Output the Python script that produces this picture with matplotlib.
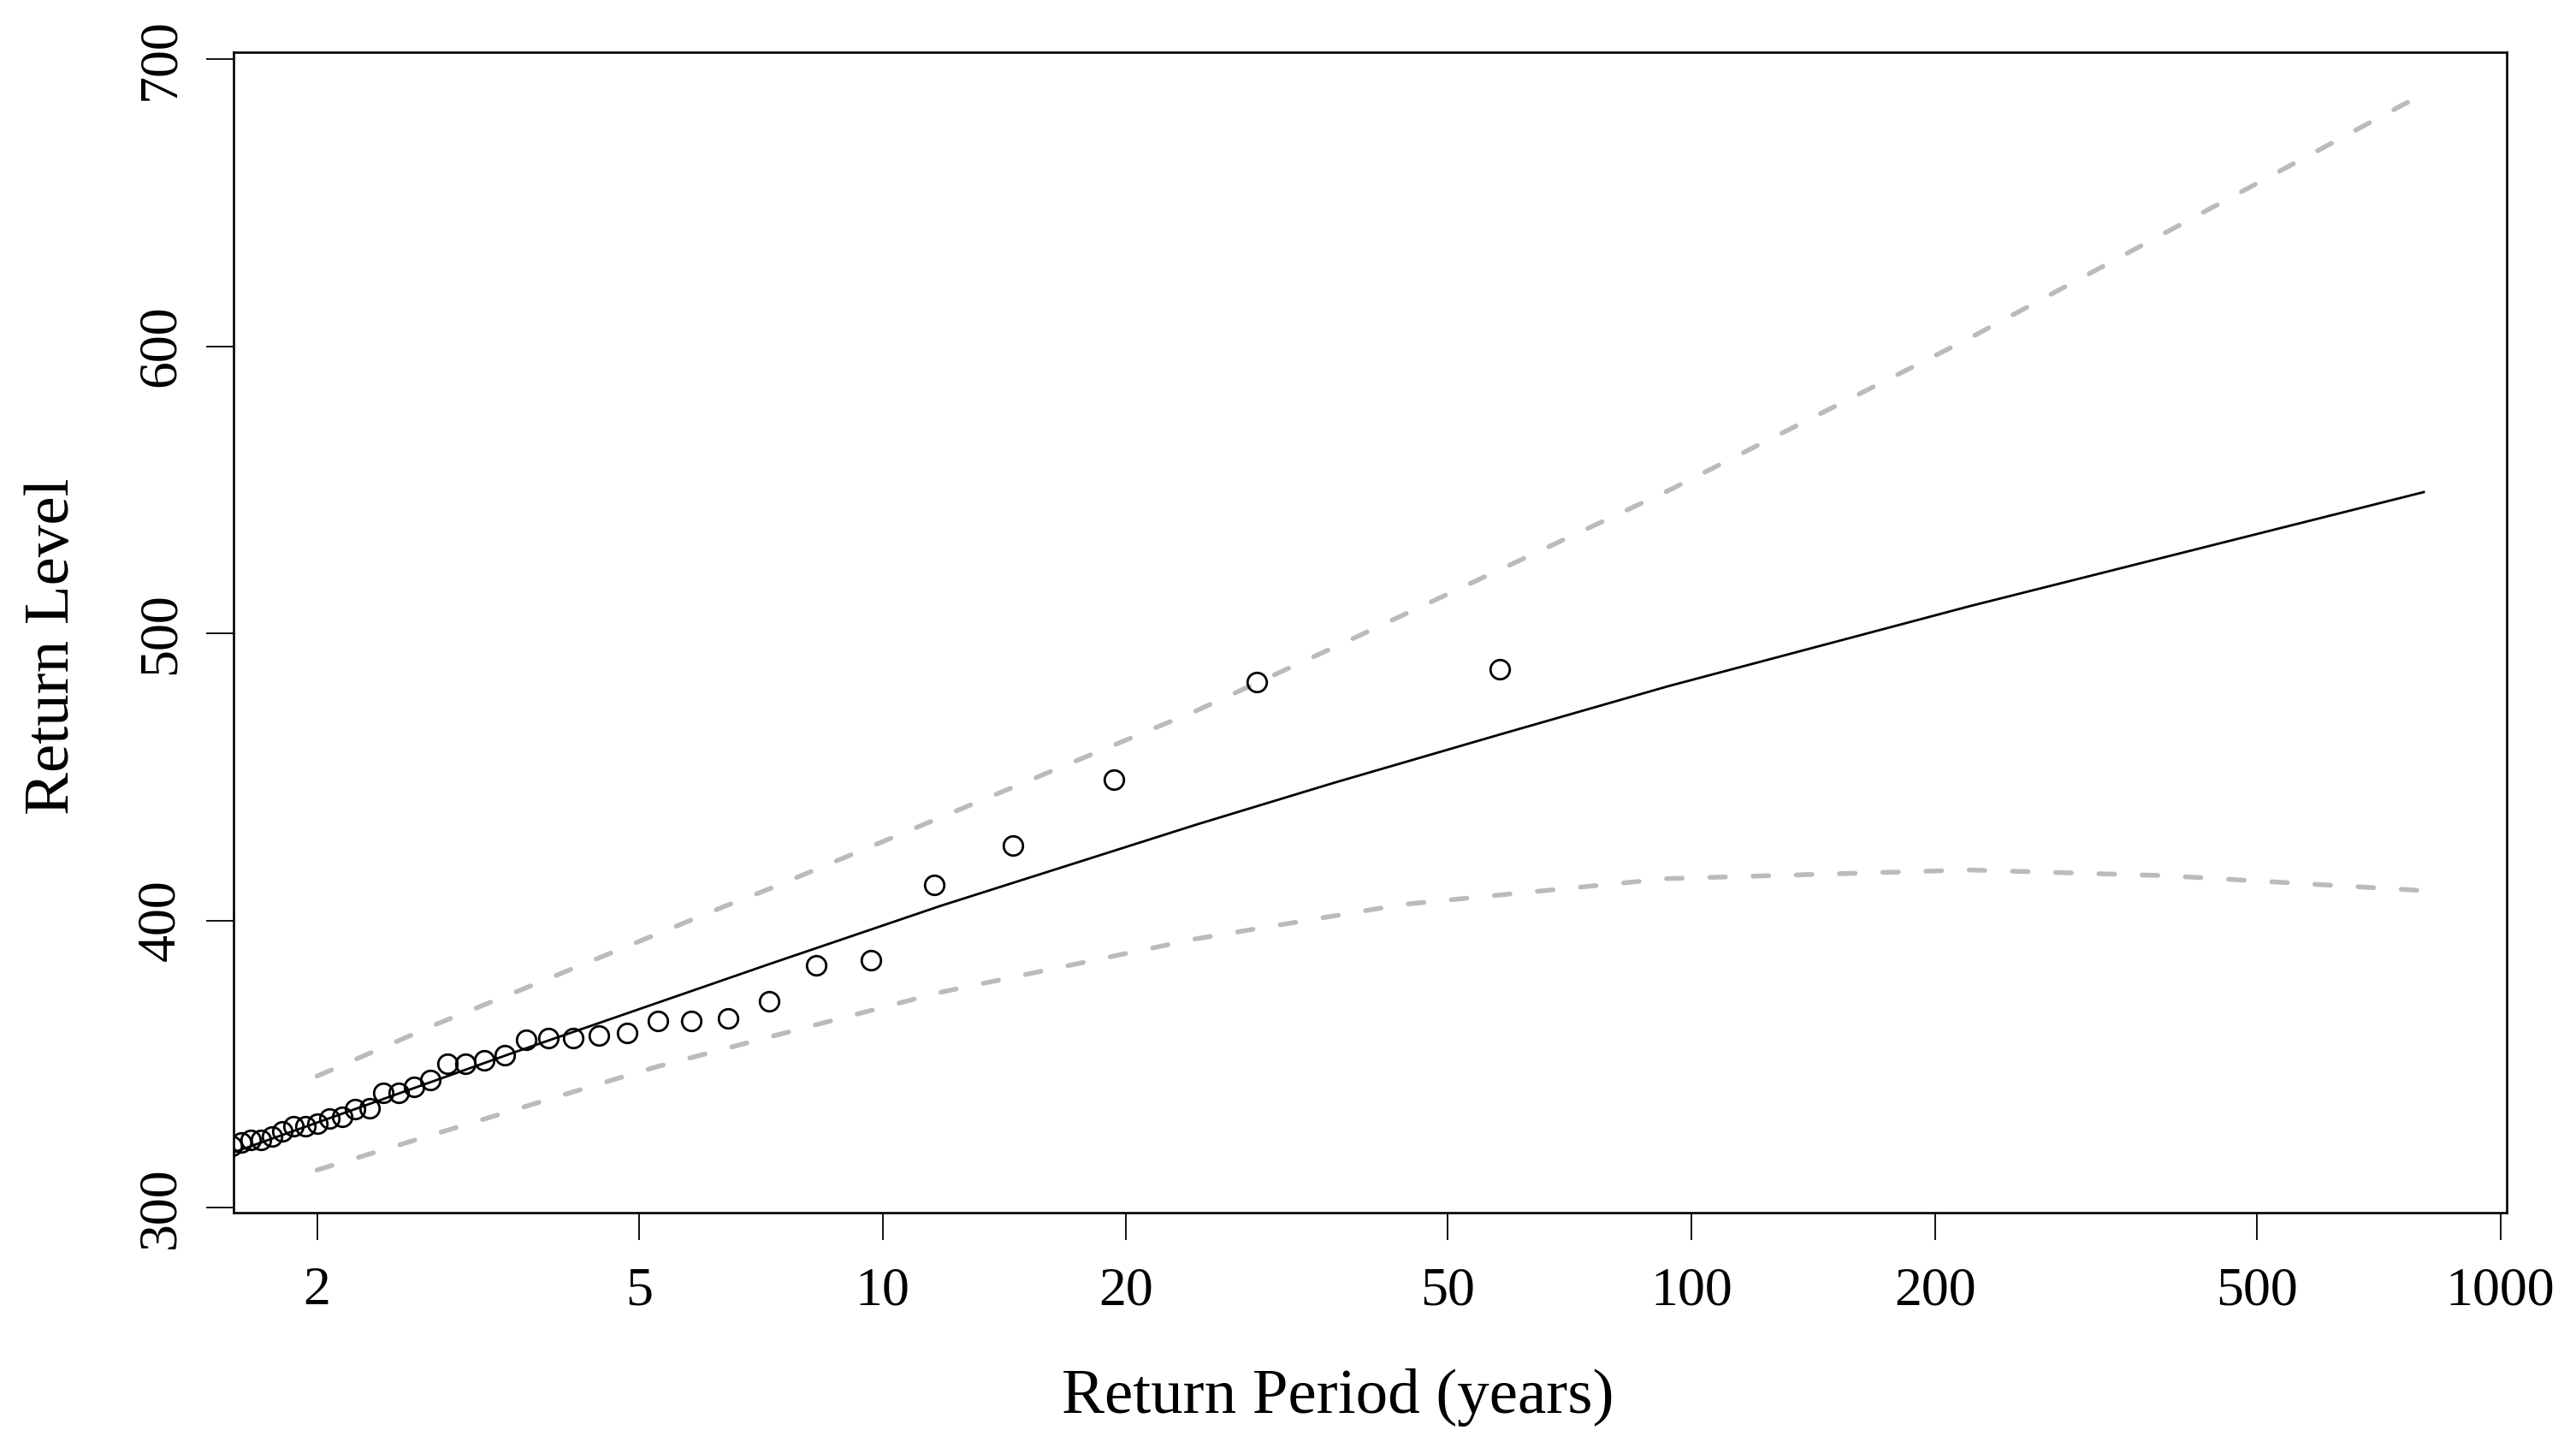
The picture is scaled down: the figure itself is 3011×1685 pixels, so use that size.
import matplotlib
matplotlib.use("Agg")
import matplotlib.pyplot as plt

# ---- data ----
obs_period = [58, 29, 19.33, 14.5, 11.6, 9.667, 8.286, 7.25, 6.444, 5.8,
              5.273, 4.833, 4.462, 4.143, 3.867, 3.625, 3.412, 3.222, 3.053, 2.9,
              2.762, 2.636, 2.522, 2.417, 2.32, 2.231, 2.148, 2.071, 2.0, 1.933,
              1.871, 1.8125, 1.758, 1.706, 1.657, 1.611, 1.568]
obs_level = [487.5, 483.1, 449.0, 426.2, 412.4, 386.3, 384.4, 371.9, 365.9, 365.0,
             365.0, 360.9, 360.0, 359.1, 359.1, 358.5, 353.2, 351.2, 350.1, 350.1,
             344.3, 342.1, 340.1, 340.1, 334.6, 334.2, 331.6, 331.1, 329.2, 328.4,
             328.4, 326.7, 324.7, 323.7, 323.7, 322.7, 321.5]

fit_period = [1.55, 2.0, 3.5, 6.14, 7.26, 11.8, 24.5, 36.1, 58, 93.6, 221, 804]
fit_level = [318.5, 329.6, 354.0, 377.8, 384.9, 405.1, 433.5, 447.9, 464.8, 481.6, 509.5, 549.2]

upper_period = [2.0, 2.81, 3.5, 6.53, 7.26, 24.5, 37.7, 93.6, 221, 760, 804]
upper_level = [345.8, 363.9, 374.8, 406.1, 411.1, 473.2, 497.5, 549.7, 602.9, 684.3, 687.7]

lower_period = [2.0, 2.84, 4.53, 5.25, 8.2, 11.8, 24.5, 44, 93.6, 221, 387, 760, 804]
lower_level = [313.1, 326.2, 343.6, 349.0, 363.4, 375.0, 393.7, 405.6, 414.6, 417.6, 415.6, 410.8, 410.4]

x_ticks = [2, 5, 10, 20, 50, 100, 200, 500, 1000]
x_ticklabels = ["2", "5", "10", "20", "50", "100", "200", "500", "1000"]
y_ticks = [300, 400, 500, 600, 700]
y_ticklabels = ["300", "400", "500", "600", "700"]

# ---- figure ----
W, H = 3011, 1685
plt.rcParams['font.family'] = ['Liberation Serif', 'DejaVu Serif']
fig = plt.figure(figsize=(W / 100, H / 100), dpi=100)
fig.patch.set_facecolor("white")

L, R, T, B = 273, 2930, 61, 1416.5
ax = fig.add_axes([L / W, 1 - B / H, (R - L) / W, (B - T) / H])
ax.set_xscale("log")
ax.set_xlim(1.577, 1018)
ax.set_ylim(298.4, 702.4)

ci_color = "#BBBBBE"
for per, lev in ((upper_period, upper_level), (lower_period, lower_level)):
    ax.plot(per, lev, color=ci_color, lw=4.0, dashes=(3.3, 5.8),
            dash_capstyle="round", solid_capstyle="round")
ax.plot(fit_period, fit_level, color="black", lw=2.0)
ax.plot(obs_period, obs_level, linestyle="none", marker="o", markersize=16.2,
        markerfacecolor="none", markeredgecolor="black", markeredgewidth=2.0)

ax.set_xticks(x_ticks)
ax.set_xticklabels(x_ticklabels)
ax.xaxis.set_minor_locator(matplotlib.ticker.NullLocator())
ax.set_yticks(y_ticks)
ax.set_yticklabels(y_ticklabels, rotation=90, va="center")

ax.tick_params(axis="both", which="major", direction="out", length=23,
               width=1.3, labelsize=46, color="black")
ax.tick_params(axis="x", pad=23)
ax.tick_params(axis="y", pad=17)
for s in ax.spines.values():
    s.set_linewidth(1.9)
    s.set_color("black")

fig.text(1564 / W, 1 - 1651 / H, "Return Period (years)", fontsize=54,
         ha="center", va="baseline")
fig.text(80 / W, 1 - 755 / H, "Return Level", fontsize=54, rotation=90,
         rotation_mode="anchor", ha="center", va="baseline")

fig.savefig("out.png", dpi=100, facecolor="white")
